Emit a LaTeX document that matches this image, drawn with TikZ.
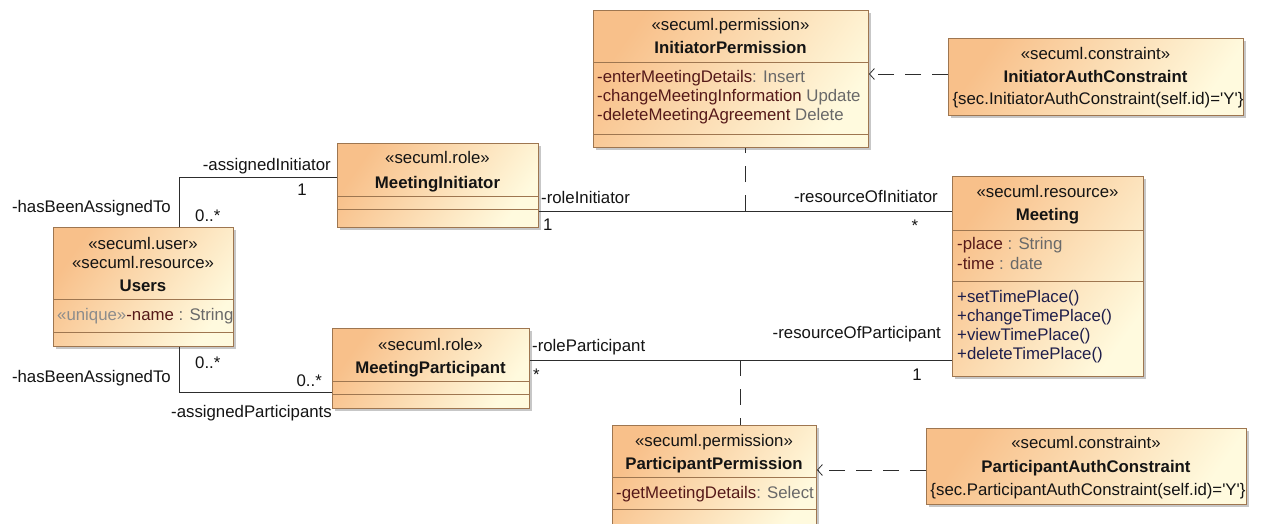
\documentclass[tikz,border=0pt]{standalone}
\usepackage{fontspec}
\setmainfont{Liberation Sans}
\usetikzlibrary{arrows.meta,shadows}
\definecolor{gA}{RGB}{248,192,138}
\definecolor{gB}{RGB}{255,250,222}
\definecolor{brd}{RGB}{158,118,80}
\definecolor{attr}{RGB}{85,25,25}
\definecolor{typ}{RGB}{105,105,105}
\definecolor{typl}{RGB}{140,140,140}
\definecolor{opc}{RGB}{30,30,75}
\definecolor{ln}{RGB}{45,45,45}
\definecolor{txt}{RGB}{20,20,20}
\pgfdeclarehorizontalshading{umlshade}{100bp}{color(0bp)=(gA); color(25bp)=(gA); color(75bp)=(gB); color(100bp)=(gB)}
\tikzset{
  umlbox/.style={draw=brd, line width=0.9pt, shading=umlshade, shading angle=-35,
    anchor=north west, inner sep=0pt,
    drop shadow={shadow xshift=3pt, shadow yshift=-3pt, fill=black, opacity=0.22}},
  divline/.style={draw=brd, line width=0.9pt},
  tx/.style={inner sep=0pt, anchor=base, text=txt, font=\fontsize{16.8}{20}\selectfont},
  tb/.style={tx, font=\fontsize{16.8}{20}\selectfont\bfseries},
  tl/.style={tx, anchor=base west},
  tr/.style={tx, anchor=base east},
  assoc/.style={draw=ln, line width=0.8pt},
  dashv/.style={draw=ln, line width=0.8pt, dash pattern=on 16pt off 13pt},
  dep/.style={draw=ln, line width=0.8pt, dash pattern=on 16pt off 11pt,
    -{Straight Barb[length=5pt,width=11pt,line width=0.8pt]}}
}
\begin{document}
\begin{tikzpicture}[x=1pt,y=-1pt]
\useasboundingbox (0,0) rectangle (1263,524);
\fill[white] (0,0) rectangle (1263,524);

% ---------- boxes ----------
\node[umlbox, minimum width=275pt, minimum height=137pt] (ip) at (593,10) {};
\node[umlbox, minimum width=295pt, minimum height=77pt] (iac) at (948,38) {};
\node[umlbox, minimum width=201pt, minimum height=84pt] (mi) at (337,143) {};
\node[umlbox, minimum width=180pt, minimum height=119pt] (us) at (53,227) {};
\node[umlbox, minimum width=197pt, minimum height=80pt] (mp) at (332,328) {};
\node[umlbox, minimum width=191pt, minimum height=200pt] (mt) at (952,176) {};
\node[umlbox, minimum width=204pt, minimum height=110pt] (pp) at (612,425) {};
\node[umlbox, minimum width=320pt, minimum height=76pt] (pac) at (926,428) {};

% ---------- compartments ----------
\draw[divline] (ip.west |- 0,62) -- (ip.east |- 0,62);
\draw[divline] (ip.west |- 0,134) -- (ip.east |- 0,134);
\draw[divline] (mi.west |- 0,196) -- (mi.east |- 0,196);
\draw[divline] (mi.west |- 0,209) -- (mi.east |- 0,209);
\draw[divline] (us.west |- 0,299) -- (us.east |- 0,299);
\draw[divline] (us.west |- 0,332) -- (us.east |- 0,332);
\draw[divline] (mp.west |- 0,381) -- (mp.east |- 0,381);
\draw[divline] (mp.west |- 0,394) -- (mp.east |- 0,394);
\draw[divline] (mt.west |- 0,230) -- (mt.east |- 0,230);
\draw[divline] (mt.west |- 0,281) -- (mt.east |- 0,281);
\draw[divline] (pp.west |- 0,477) -- (pp.east |- 0,477);
\draw[divline] (pp.west |- 0,509) -- (pp.east |- 0,509);

% ---------- box texts ----------
\node[tx] (ip-s) at (730.5,31) {«secuml.permission»};
\node[tb] (ip-n) at (730.5,54) {InitiatorPermission};
\node[tl] (ip-a1) at (597,83) {\textcolor{attr}{-enterMeetingDetails}\textcolor{typ}{: Insert}};
\node[tl] (ip-a2) at (597,102) {\textcolor{attr}{-changeMeetingInformation} \textcolor{typ}{Update}};
\node[tl] (ip-a3) at (597,121) {\textcolor{attr}{-deleteMeetingAgreement} \textcolor{typ}{Delete}};

\node[tx] (iac-s) at (1095.5,60) {«secuml.constraint»};
\node[tb] (iac-n) at (1095.5,83) {InitiatorAuthConstraint};
\node[tx] (iac-c) at (1098,105) {\{sec.InitiatorAuthConstraint(self.id)=\textquotesingle Y\textquotesingle\}};

\node[tx] (mi-s) at (437.5,164) {«secuml.role»};
\node[tb] (mi-n) at (437.5,188) {MeetingInitiator};

\node[tx] (us-s1) at (143,249) {«secuml.user»};
\node[tx] (us-s2) at (143,268) {«secuml.resource»};
\node[tb] (us-n) at (143,291) {Users};
\node[tl] (us-a) at (57,320) {\textcolor{typl}{«unique»}\textcolor{attr}{-name} \textcolor{typ}{: String}};

\node[tx] (mp-s) at (430.5,350) {«secuml.role»};
\node[tb] (mp-n) at (430.5,373) {MeetingParticipant};

\node[tx] (mt-s) at (1047.5,197.5) {«secuml.resource»};
\node[tb] (mt-n) at (1047.5,220.5) {Meeting};
\node[tl] (mt-a1) at (957,249) {\textcolor{attr}{-place} \textcolor{typ}{: String}};
\node[tl] (mt-a2) at (957,269) {\textcolor{attr}{-time} \textcolor{typ}{: date}};
\node[tl] (mt-o1) at (957,302) {\textcolor{opc}{+setTimePlace()}};
\node[tl] (mt-o2) at (957,321) {\textcolor{opc}{+changeTimePlace()}};
\node[tl] (mt-o3) at (957,340) {\textcolor{opc}{+viewTimePlace()}};
\node[tl] (mt-o4) at (957,359) {\textcolor{opc}{+deleteTimePlace()}};

\node[tx] (pp-s) at (714,446) {«secuml.permission»};
\node[tb] (pp-n) at (714,469) {ParticipantPermission};
\node[tl] (pp-a) at (616,498) {\textcolor{attr}{-getMeetingDetails}\textcolor{typ}{: Select}};

\node[tx] (pac-s) at (1086,448) {«secuml.constraint»};
\node[tb] (pac-n) at (1086,472) {ParticipantAuthConstraint};
\node[tx] (pac-c) at (1088,495) {\{sec.ParticipantAuthConstraint(self.id)=\textquotesingle Y\textquotesingle\}};

% ---------- connectors ----------
\draw[assoc] (us.north -| 179,0) |- (mi.west |- 0,177);
\draw[assoc] (us.south -| 179,0) |- (mp.west |- 0,392);
\draw[assoc] (mi.east |- 0,211) -- (mt.west |- 0,211);
\draw[assoc] (mp.east |- 0,360) -- (mt.west |- 0,360);
\coordinate (a1) at (745,211);
\coordinate (a2) at (740.5,360);
\draw[dashv] (a1) -- (ip.south -| a1);
\draw[dashv] (a2) -- (pp.north -| a2);
\draw[dep] (iac.west |- 0,74) -- (ip.east |- 0,74);
\draw[dep] (pac.west |- 0,470) -- (pp.east |- 0,470);

% ---------- connector labels ----------
\node[tr] (l1) at (331,170) {-assignedInitiator};
\node[tx] (l2) at (302,195) {1};
\node[tr] (l3) at (171,212) {-hasBeenAssignedTo};
\node[tl] (l4) at (195,221) {0..*};
\node[tl] (l5) at (195,368) {0..*};
\node[tr] (l6) at (171,382) {-hasBeenAssignedTo};
\node[tr] (l7) at (322,386) {0..*};
\node[tr] (l8) at (332,417) {-assignedParticipants};
\node[tl] (l9) at (541,203) {-roleInitiator};
\node[tl] (l10) at (543,230) {1};
\node[tr] (l11) at (938,202) {-resourceOfInitiator};
\node[tx] (l12) at (915,231) {*};
\node[tl] (l13) at (532,351) {-roleParticipant};
\node[tl] (l14) at (533,380) {*};
\node[tr] (l15) at (941,338) {-resourceOfParticipant};
\node[tx] (l16) at (917,380) {1};
\end{tikzpicture}
\end{document}
